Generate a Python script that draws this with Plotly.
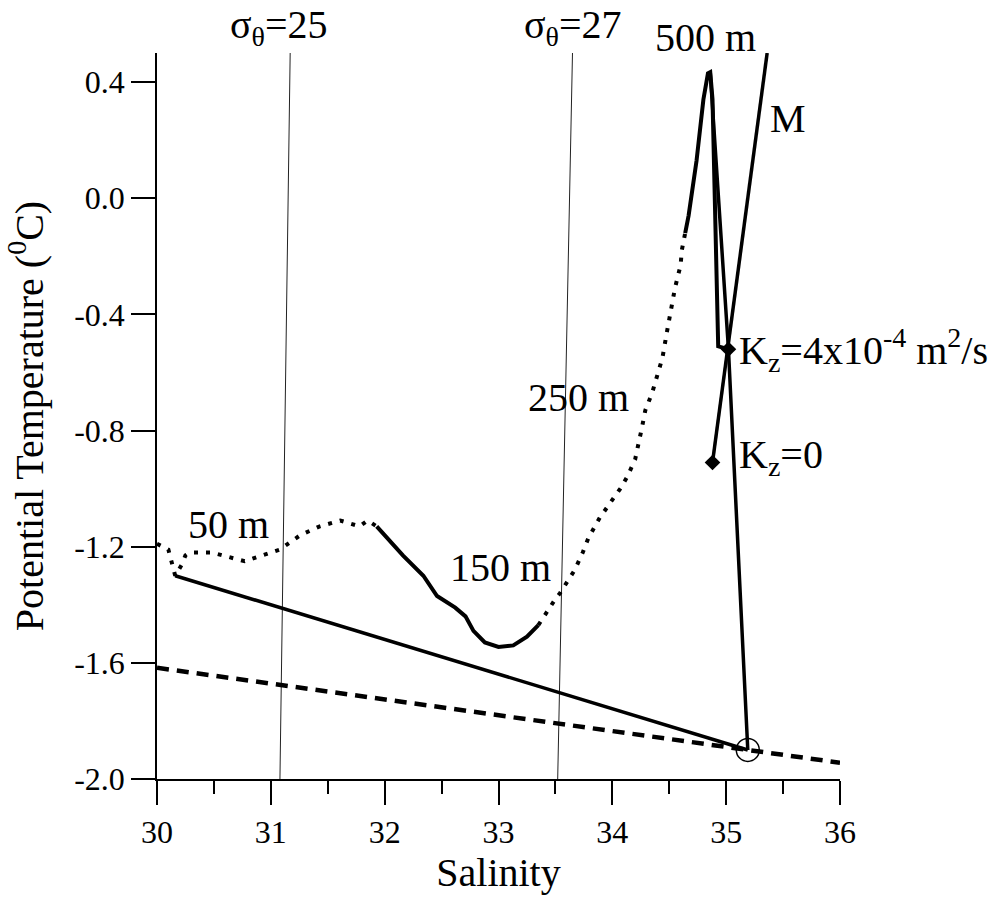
import plotly.graph_objects as go

# ---- data (salinity, potential temperature in degC) ----
# observed profile: surface layer down to ~50 m (sparse points)
s_surface = [30.00, 30.10, 30.16, 30.22, 30.25, 30.29, 30.38, 30.48, 30.77, 30.99,
             31.08, 31.15, 31.26, 31.43, 31.61, 31.78, 31.85, 31.93]
t_surface = [-1.19, -1.21, -1.30, -1.26, -1.23, -1.22, -1.22, -1.22, -1.25, -1.22,
             -1.21, -1.19, -1.16, -1.13, -1.11, -1.13, -1.11, -1.13]

# observed profile: 50 m to 150 m (temperature minimum)
s_halocline = [31.93, 32.02, 32.16, 32.34, 32.46, 32.62, 32.71, 32.78, 32.88, 33.00,
               33.13, 33.25, 33.35]
t_halocline = [-1.13, -1.17, -1.23, -1.30, -1.37, -1.41, -1.44, -1.49, -1.53, -1.545,
               -1.54, -1.51, -1.47]

# observed profile: 150 m through 250 m towards the Atlantic layer (sparse points)
s_lower = [33.35, 33.43, 33.50, 33.54, 33.60, 33.67, 33.74, 33.79, 33.89, 33.98,
           34.07, 34.13, 34.20, 34.26, 34.29, 34.35, 34.40, 34.44, 34.48, 34.52,
           34.55, 34.60, 34.61, 34.64]
t_lower = [-1.47, -1.42, -1.38, -1.36, -1.32, -1.28, -1.22, -1.17, -1.10, -1.05,
           -1.00, -0.96, -0.90, -0.79, -0.73, -0.67, -0.60, -0.55, -0.46, -0.37,
           -0.31, -0.23, -0.18, -0.12]

# observed profile: Atlantic layer core (500 m) and below
s_atlantic = [34.64, 34.67, 34.74, 34.80, 34.84, 34.86, 34.88, 34.89, 34.91, 34.93, 35.02]
t_atlantic = [-0.12, -0.06, 0.13, 0.34, 0.43, 0.434, 0.34, 0.17, -0.18, -0.51, -0.52]

# model end members
s_kz4, t_kz4 = 35.02, -0.52      # Kz = 4e-4 m2/s
s_kz0, t_kz0 = 34.88, -0.91      # Kz = 0
s_brine, t_brine = 35.19, -1.90  # dense shelf water at freezing point

# model curve Kz = 4e-4 (brine point -> Kz point -> 500 m core)
s_model = [s_brine, s_kz4, 34.86]
t_model = [t_brine, t_kz4, 0.434]

# mixing line M
s_mix = [s_kz0, 35.36]
t_mix = [t_kz0, 0.50]

# surface water to brine mixing line
s_shelf = [30.16, s_brine]
t_shelf = [-1.30, t_brine]

# freezing temperature
s_freeze = [30.0, 36.0]
t_freeze = [-1.617, -1.944]

# isopycnals
s_sig25 = [31.17, 31.08]
t_sig25 = [0.5, -2.0]
s_sig27 = [33.65, 33.52]
t_sig27 = [0.5, -2.0]

x_ticks = [30, 31, 32, 33, 34, 35, 36]
y_ticks = [-2.0, -1.6, -1.2, -0.8, -0.4, 0.0, 0.4]
y_tick_labels = ["-2.0", "-1.6", "-1.2", "-0.8", "-0.4", "0.0", "0.4"]

FONT = "Liberation Serif"
INK = "black"
DOTS = "4px,8px"

fig = go.Figure()

for s, t in [(s_sig25, t_sig25), (s_sig27, t_sig27)]:
    fig.add_trace(go.Scatter(x=s, y=t, mode="lines",
                             line=dict(color="#222222", width=1)))

fig.add_trace(go.Scatter(x=s_freeze, y=t_freeze, mode="lines",
                         line=dict(color=INK, width=4.5, dash="12px,8px")))

fig.add_trace(go.Scatter(x=s_shelf, y=t_shelf, mode="lines",
                         line=dict(color=INK, width=3.5)))

fig.add_trace(go.Scatter(x=s_surface, y=t_surface, mode="lines",
                         line=dict(color=INK, width=4, dash=DOTS)))
fig.add_trace(go.Scatter(x=s_halocline, y=t_halocline, mode="lines",
                         line=dict(color=INK, width=4)))
fig.add_trace(go.Scatter(x=s_lower, y=t_lower, mode="lines",
                         line=dict(color=INK, width=4, dash=DOTS)))
fig.add_trace(go.Scatter(x=s_atlantic, y=t_atlantic, mode="lines",
                         line=dict(color=INK, width=4)))

fig.add_trace(go.Scatter(x=s_model, y=t_model, mode="lines",
                         line=dict(color=INK, width=3.5)))
fig.add_trace(go.Scatter(x=s_mix, y=t_mix, mode="lines",
                         line=dict(color=INK, width=3.5)))

fig.add_trace(go.Scatter(x=[s_kz4, s_kz0], y=[t_kz4, t_kz0], mode="markers",
                         marker=dict(symbol="diamond", size=12, color=INK)))
fig.add_trace(go.Scatter(x=[s_brine], y=[t_brine], mode="markers",
                         marker=dict(symbol="circle-open", size=23, color=INK,
                                     line=dict(width=1.5, color=INK))))

label_font = dict(family=FONT, size=40, color=INK)

# labels inside the plotting area (data coordinates)
labels = [
    (35.54, 0.276, "M", "center"),
    (35.095, -0.523, "K<sub>z</sub>=4x10<sup>-4</sup> m<sup>2</sup>/s", "left"),
    (35.095, -0.89, "K<sub>z</sub>=0", "left"),
    (33.70, -0.685, "250 m", "center"),
    (33.02, -1.273, "150 m", "center"),
    (30.63, -1.122, "50 m", "center"),
]
for x, y, txt, anchor in labels:
    fig.add_annotation(x=x, y=y, text=txt, showarrow=False, xanchor=anchor,
                       yanchor="middle", font=label_font)

# labels above the top of the plotting area
top_labels = [
    (31.07, 26, "σ<sub>θ</sub>=25"),
    (33.655, 26, "σ<sub>θ</sub>=27"),
    (34.82, 16, "500 m"),
]
for x, shift, txt in top_labels:
    fig.add_annotation(x=x, xref="x", y=1, yref="paper", yshift=shift, text=txt,
                       showarrow=False, xanchor="center", yanchor="middle",
                       font=label_font)

axis_common = dict(
    showgrid=False, zeroline=False, showline=True, linecolor=INK, linewidth=1.5,
    ticks="outside", ticklen=24, tickwidth=1.5, tickcolor=INK,
    tickfont=dict(family=FONT, size=32, color=INK),
)

fig.update_xaxes(
    range=[30, 36], tickvals=x_ticks,
    minor=dict(dtick=0.5, ticks="outside", ticklen=13, tickwidth=1.5, tickcolor=INK),
    title=dict(text="Salinity", font=dict(family=FONT, size=40, color=INK), standoff=4),
    **axis_common,
)
fig.update_yaxes(
    range=[-2.0, 0.5], tickvals=y_ticks, ticktext=y_tick_labels,
    title=dict(text="Potential Temperature (<sup>0</sup>C)",
               font=dict(family=FONT, size=40, color=INK), standoff=18),
    **axis_common,
)

fig.update_layout(
    width=992, height=899,
    margin=dict(l=157, r=152, t=53, b=120, autoexpand=False),
    plot_bgcolor="white", paper_bgcolor="white",
    showlegend=False,
    font=dict(family=FONT, color=INK),
)

fig.write_html("out.html")
